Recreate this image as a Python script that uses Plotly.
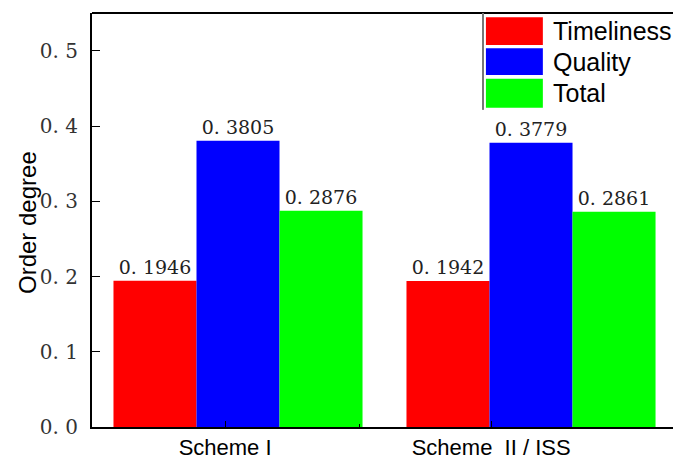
import plotly.graph_objects as go

groups = [1, 2]
group_labels = ["Scheme I", "Scheme  II / ISS"]
label_pos = [0.956, 1.864]
series_names = ["Timeliness", "Quality", "Total"]
timeliness = [0.1946, 0.1942]
quality = [0.3805, 0.3779]
total = [0.2876, 0.2861]
colors = ["#FF0000", "#0000FF", "#00FF00"]
yticks = [0.0, 0.1, 0.2, 0.3, 0.4, 0.5]
ytick_text = ["0. 0", "0. 1", "0. 2", "0. 3", "0. 4", "0. 5"]

serif = "DejaVu Serif, Liberation Serif, serif"
sans = "Liberation Sans, Arial, sans-serif"

fig = go.Figure()
for name, vals, col in zip(series_names, [timeliness, quality, total], colors):
    fig.add_trace(go.Bar(
        x=groups, y=vals, name=name, marker=dict(color=col, line=dict(width=0)),
        text=["0. " + f"{v:.4f}"[2:] for v in vals], textposition="outside",
        textfont=dict(family=serif, size=19, color="#222"),
        cliponaxis=False, showlegend=False, hoverinfo="skip",
    ))

fig.update_layout(
    width=673, height=460,
    margin=dict(l=92, r=0, t=13, b=33, autoexpand=False),
    paper_bgcolor="white", plot_bgcolor="white",
    barmode="group", bargap=0.15, bargroupgap=0,
    xaxis=dict(range=[0.5017, 2.4846], tickvals=label_pos, ticktext=group_labels,
               ticks="inside", ticklen=6, tickcolor="black", ticklabelstandoff=0,
               showline=True, linecolor="black", linewidth=2, showgrid=False,
               zeroline=False, tickfont=dict(family=sans, size=22, color="black"),
               minor=dict(tickvals=[1.413], ticks="inside", ticklen=3, tickcolor="black")),
    yaxis=dict(range=[0, 0.5505], tickvals=yticks, ticktext=ytick_text,
               ticks="inside", ticklen=8, tickcolor="black", ticklabelstandoff=8,
               showline=True, linecolor="black", linewidth=2, showgrid=False,
               zeroline=False, tickfont=dict(family=serif, size=20, color="#333")),
)

# y-axis title
fig.add_annotation(xref="paper", yref="paper", x=-0.112, y=0.495, text="Order degree",
                   textangle=-90, showarrow=False, xanchor="center", yanchor="middle",
                   font=dict(family=sans, size=24, color="black"))

# top frame line
fig.add_shape(type="line", xref="paper", yref="paper", x0=0, x1=1, y0=1, y1=1,
              line=dict(color="black", width=2))

# legend (custom, large swatches)
fig.add_shape(type="line", xref="paper", yref="paper", x0=0.673, x1=0.673, y0=1, y1=0.766,
              line=dict(color="#777", width=2))
sw_y = [(0.990, 0.923), (0.915, 0.850), (0.841, 0.771)]
for name, col, (y1, y0) in zip(series_names, colors, sw_y):
    fig.add_shape(type="rect", xref="paper", yref="paper", x0=0.678, x1=0.776, y0=y0, y1=y1,
                  fillcolor=col, line=dict(width=0))
    fig.add_annotation(xref="paper", yref="paper", x=0.790, y=(y0 + y1) / 2, text=name,
                       showarrow=False, xanchor="left", yanchor="middle",
                       font=dict(family=sans, size=25, color="black"))

fig.write_html("out.html", config={"displayModeBar": False},
               post_script="document.body.style.margin='0px';document.body.style.overflow='hidden';")
